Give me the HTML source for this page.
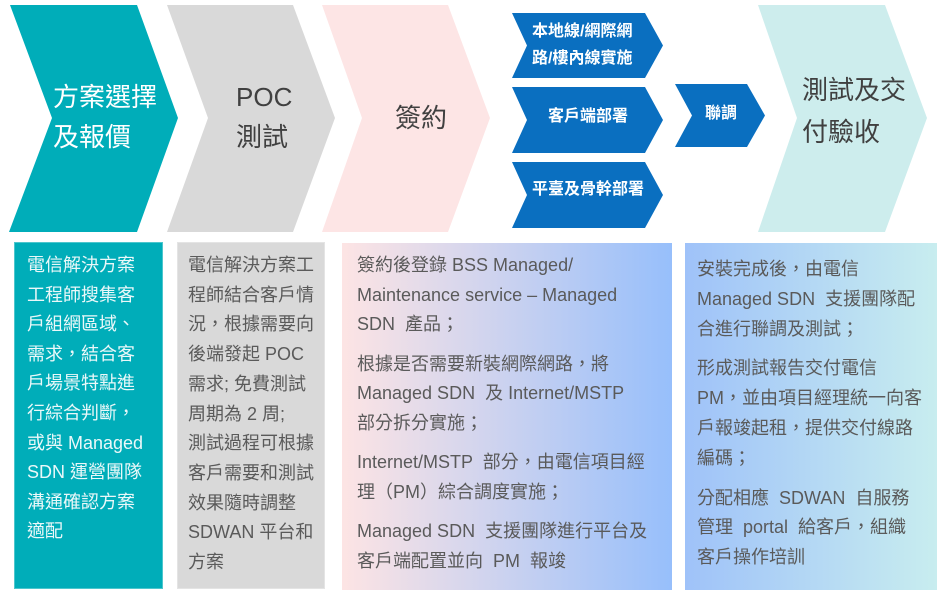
<!DOCTYPE html>
<html>
<head>
<meta charset="utf-8">
<style>
html,body{margin:0;padding:0;background:#fff;}
body{width:941px;height:595px;position:relative;overflow:hidden;font-family:"Liberation Sans","Noto Sans CJK TC",sans-serif;}
svg{position:absolute;left:0;top:0;}
.t{position:absolute;white-space:nowrap;}
.big{font-size:26px;line-height:40px;}
.blue{font-size:16px;font-weight:bold;color:#fff;line-height:27px;}
.box{position:absolute;box-sizing:border-box;}
.body{font-size:18px;color:#5a5a5a;white-space:nowrap;}
.body p{margin:0;}
</style>
</head>
<body>
<svg width="941" height="595" viewBox="0 0 941 595">
  <polygon points="10,5 137,5 178,118 137,232 9,232 52,118" fill="#00adb9"/>
  <polygon points="167,5 293,5 335,118 293,232 167,232 208,118" fill="#d9d9d9"/>
  <polygon points="322,5 448,5 490,118 448,232 322,232 362,118" fill="#fde5e5"/>
  <polygon points="512,13 645,13 663,45.5 645,78 512,78 527,45.5" fill="#0a6fc0"/>
  <polygon points="512,87 645,87 663,120 645,153 512,153 527,120" fill="#0a6fc0"/>
  <polygon points="512,162 645,162 663,195 645,228 512,228 527,195" fill="#0a6fc0"/>
  <polygon points="675,84 747,84 765,115.5 747,147 675,147 692,115.5" fill="#0a6fc0"/>
  <polygon points="758,5 885,5 927,118 885,232 758,232 797,118" fill="#cdeded"/>
</svg>

<div class="t big" style="left:53px;top:77px;color:#fff;">方案選擇<br>及報價</div>
<div class="t big" style="left:236px;top:77px;color:#404040;">POC<br>測試</div>
<div class="t big" style="left:395px;top:98px;color:#404040;">簽約</div>
<div class="t big" style="left:802px;top:69px;color:#404040;line-height:42px;">測試及交<br>付驗收</div>

<div class="t blue" style="left:532px;top:18px;">本地線/網際網<br>路/樓內線實施</div>
<div class="t blue" style="left:548px;top:103px;">客戶端部署</div>
<div class="t blue" style="left:532px;top:176px;">平臺及骨幹部署</div>
<div class="t blue" style="left:705px;top:100px;">聯調</div>

<div class="box" style="left:14px;top:242px;width:149px;height:347px;background:#00adb9;border:1px solid #4cc6cd;"></div>
<div class="t body" style="left:27px;top:251px;line-height:29.6px;color:#eaf8f9;">電信解決方案<br>工程師搜集客<br>戶組網區域、<br>需求，結合客<br>戶場景特點進<br>行綜合判斷，<br>或與 Managed<br>SDN 運營團隊<br>溝通確認方案<br>適配</div>

<div class="box" style="left:177px;top:242px;width:148px;height:347px;background:#d9d9d9;border:1px solid #e4e4e4;"></div>
<div class="t body" style="left:188px;top:251px;line-height:29.7px;">電信解決方案工<br>程師結合客戶情<br>況，根據需要向<br>後端發起 POC<br>需求; 免費測試<br>周期為 2 周;<br>測試過程可根據<br>客戶需要和測試<br>效果隨時調整<br>SDWAN 平台和<br>方案</div>

<div class="box" style="left:342px;top:243px;width:330px;height:347px;background:linear-gradient(to right,#fde4e4,#97bffb);"></div>
<div class="t body" style="left:357px;top:251px;line-height:29.5px;">
<p>簽約後登錄 BSS Managed/<br>Maintenance service – Managed<br>SDN &nbsp;產品；</p>
<p style="margin-top:10px;">根據是否需要新裝網際網路，將<br>Managed SDN &nbsp;及 Internet/MSTP<br>部分拆分實施；</p>
<p style="margin-top:10px;">Internet/MSTP &nbsp;部分，由電信項目經<br>理（PM）綜合調度實施；</p>
<p style="margin-top:10px;">Managed SDN &nbsp;支援團隊進行平台及<br>客戶端配置並向 &nbsp;PM &nbsp;報竣</p>
</div>

<div class="box" style="left:685px;top:243px;width:252px;height:347px;background:linear-gradient(to right,#9fc2f9,#c8edef);"></div>
<div class="t body" style="left:697px;top:255px;line-height:29.8px;">
<p>安裝完成後，由電信<br>Managed SDN &nbsp;支援團隊配<br>合進行聯調及測試；</p>
<p style="margin-top:10px;">形成測試報告交付電信<br>PM，並由項目經理統一向客<br>戶報竣起租，提供交付線路<br>編碼；</p>
<p style="margin-top:10px;">分配相應 &nbsp;SDWAN &nbsp;自服務<br>管理 &nbsp;portal &nbsp;給客戶，組織<br>客戶操作培訓</p>
</div>
</body>
</html>
